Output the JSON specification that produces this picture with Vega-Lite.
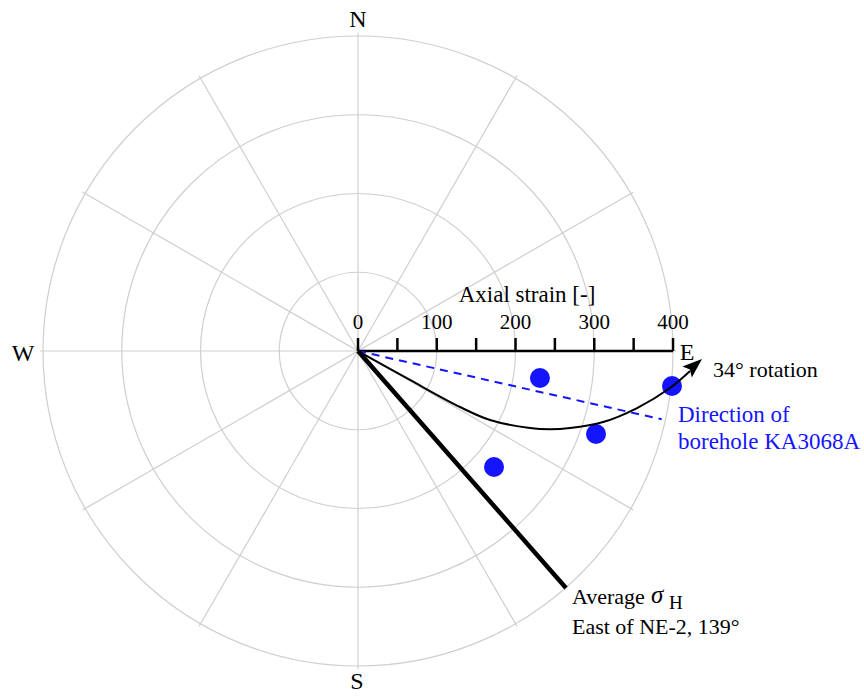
{
  "$schema": "https://vega.github.io/schema/vega-lite/v6.json",
  "width": 864,
  "height": 698,
  "autosize": "none",
  "padding": 0,
  "background": "white",
  "config": {"view": {"stroke": null}, "text": {"font": "Liberation Serif"}},
  "datasets": {
    "rings": [{"r": 100}, {"r": 200}, {"r": 300}, {"r": 400}],
    "spokes": [
      {"x": -404, "y": 0, "x2": 404, "y2": 0},
      {"x": -349.9, "y": -202, "x2": 349.9, "y2": 202},
      {"x": -202, "y": -349.9, "x2": 202, "y2": 349.9},
      {"x": 0, "y": -404, "x2": 0, "y2": 404},
      {"x": 202, "y": -349.9, "x2": -202, "y2": 349.9},
      {"x": 349.9, "y": -202, "x2": -349.9, "y2": 202}
    ],
    "ticks": [{"s": 0}, {"s": 50}, {"s": 100}, {"s": 150}, {"s": 200}, {"s": 250}, {"s": 300}, {"s": 350}, {"s": 400}],
    "ticklabels": [{"s": 0, "t": "0"}, {"s": 100, "t": "100"}, {"s": 200, "t": "200"}, {"s": 300, "t": "300"}, {"s": 400, "t": "400"}],
    "borehole": [{"x": 0, "y": 0}, {"x": 385.6, "y": -86.7}],
    "sigma": [{"x": 0, "y": 0}, {"x": 264.1, "y": -300.9}],
    "rotation": [
      {"x": 0, "y": 0},
      {"x": 66.0, "y": -36.8},
      {"x": 129.5, "y": -71.1},
      {"x": 167.6, "y": -87.6},
      {"x": 218.4, "y": -97.8},
      {"x": 243.8, "y": -99.3},
      {"x": 269.2, "y": -97.8},
      {"x": 311.1, "y": -90.2},
      {"x": 354.3, "y": -72.4},
      {"x": 396.2, "y": -47.0},
      {"x": 421.6, "y": -25.4}
    ],
    "strain": [
      {"x": 231.0, "y": -34.3},
      {"x": 398.7, "y": -44.4},
      {"x": 302.2, "y": -105.4},
      {"x": 172.7, "y": -147.3}
    ],
    "compass": [
      {"x": 0, "y": 420.3, "t": "N"},
      {"x": -1.3, "y": -420.3, "t": "S"},
      {"x": -425.4, "y": -3.8, "t": "W"},
      {"x": 417.8, "y": -2.5, "t": "E"}
    ]
  },
  "encoding": {
    "x": {"type": "quantitative", "scale": {"domain": [-454.6, 642.5], "nice": false, "zero": false}, "axis": null},
    "y": {"type": "quantitative", "scale": {"domain": [-440.6, 445.7], "nice": false, "zero": false}, "axis": null}
  },
  "layer": [
    {
      "data": {"name": "rings"},
      "mark": {"type": "point", "shape": "circle", "filled": false, "stroke": "#cfcfcf", "strokeWidth": 1.2, "opacity": 1},
      "encoding": {
        "x": {"datum": 0},
        "y": {"datum": 0},
        "size": {"field": "r", "type": "quantitative", "scale": {"type": "pow", "exponent": 2, "domain": [0, 400], "range": [0, 396900]}, "legend": null}
      }
    },
    {
      "data": {"name": "spokes"},
      "mark": {"type": "rule", "stroke": "#cfcfcf", "strokeWidth": 1.2},
      "encoding": {
        "x": {"field": "x", "type": "quantitative"},
        "y": {"field": "y", "type": "quantitative"},
        "x2": {"field": "x2"},
        "y2": {"field": "y2"}
      }
    },
    {
      "data": {"values": [{"a": 0, "b": 400}]},
      "mark": {"type": "rule", "stroke": "black", "strokeWidth": 2.5},
      "encoding": {"x": {"field": "a", "type": "quantitative"}, "x2": {"field": "b"}, "y": {"datum": 0}}
    },
    {
      "data": {"name": "ticks"},
      "mark": {"type": "rule", "stroke": "black", "strokeWidth": 2.5},
      "encoding": {"x": {"field": "s", "type": "quantitative"}, "y": {"datum": 0}, "y2": {"datum": 16.5}}
    },
    {
      "data": {"name": "ticklabels"},
      "mark": {"type": "text", "fontSize": 21, "baseline": "middle", "align": "center", "color": "black"},
      "encoding": {"x": {"field": "s", "type": "quantitative"}, "y": {"datum": 35.6}, "text": {"field": "t"}}
    },
    {
      "data": {"values": [{"t": "Axial strain [-]"}]},
      "mark": {"type": "text", "fontSize": 23, "baseline": "middle", "align": "center", "color": "black"},
      "encoding": {"x": {"datum": 214.6}, "y": {"datum": 71.1}, "text": {"field": "t"}}
    },
    {
      "data": {"name": "borehole"},
      "mark": {"type": "line", "stroke": "#1414ff", "strokeWidth": 2, "strokeDash": [8, 6]},
      "encoding": {"x": {"field": "x", "type": "quantitative"}, "y": {"field": "y", "type": "quantitative"}}
    },
    {
      "data": {"name": "sigma"},
      "mark": {"type": "line", "stroke": "black", "strokeWidth": 4.5},
      "encoding": {"x": {"field": "x", "type": "quantitative"}, "y": {"field": "y", "type": "quantitative"}}
    },
    {
      "data": {"name": "strain"},
      "mark": {"type": "point", "shape": "circle", "filled": true, "color": "#1414ff", "opacity": 1, "size": 400},
      "encoding": {"x": {"field": "x", "type": "quantitative"}, "y": {"field": "y", "type": "quantitative"}}
    },
    {
      "data": {"name": "rotation"},
      "mark": {"type": "line", "stroke": "black", "strokeWidth": 2, "interpolate": "catmull-rom"},
      "encoding": {"x": {"field": "x", "type": "quantitative"}, "y": {"field": "y", "type": "quantitative"}}
    },
    {
      "data": {"values": [{"x": 426.3, "y": -19.3}]},
      "mark": {"type": "point", "shape": "M0,-1L-0.65,0.8L0,0.45L0.65,0.8Z", "filled": true, "color": "black", "opacity": 1, "size": 484, "angle": 49},
      "encoding": {"x": {"field": "x", "type": "quantitative"}, "y": {"field": "y", "type": "quantitative"}}
    },
    {
      "data": {"name": "compass"},
      "mark": {"type": "text", "fontSize": 24, "baseline": "middle", "align": "center", "color": "black"},
      "encoding": {"x": {"field": "x", "type": "quantitative"}, "y": {"field": "y", "type": "quantitative"}, "text": {"field": "t"}}
    },
    {
      "data": {"values": [{"t": "34° rotation"}]},
      "mark": {"type": "text", "fontSize": 22, "baseline": "middle", "align": "left", "color": "black"},
      "encoding": {"x": {"datum": 450.8}, "y": {"datum": -24.1}, "text": {"field": "t"}}
    },
    {
      "data": {"values": [{"t": "Direction of", "y": -81.3}, {"t": "borehole KA3068A", "y": -115.6}]},
      "mark": {"type": "text", "fontSize": 23, "baseline": "middle", "align": "left", "color": "#1414ff"},
      "encoding": {"x": {"datum": 406.3}, "y": {"field": "y", "type": "quantitative"}, "text": {"field": "t"}}
    },
    {
      "data": {"values": [{"t": "Average", "y": -312.4}, {"t": "East of NE-2, 139°", "y": -350.5}]},
      "mark": {"type": "text", "fontSize": 22, "baseline": "middle", "align": "left", "color": "black"},
      "encoding": {"x": {"datum": 271.7}, "y": {"field": "y", "type": "quantitative"}, "text": {"field": "t"}}
    },
    {
      "data": {"values": [{"t": "σ"}]},
      "mark": {"type": "text", "fontSize": 25, "fontStyle": "italic", "baseline": "middle", "align": "left", "color": "black"},
      "encoding": {"x": {"datum": 372.1}, "y": {"datum": -309.9}, "text": {"field": "t"}}
    },
    {
      "data": {"values": [{"t": "H"}]},
      "mark": {"type": "text", "fontSize": 19, "baseline": "middle", "align": "left", "color": "black"},
      "encoding": {"x": {"datum": 394.9}, "y": {"datum": -320.0}, "text": {"field": "t"}}
    }
  ]
}
